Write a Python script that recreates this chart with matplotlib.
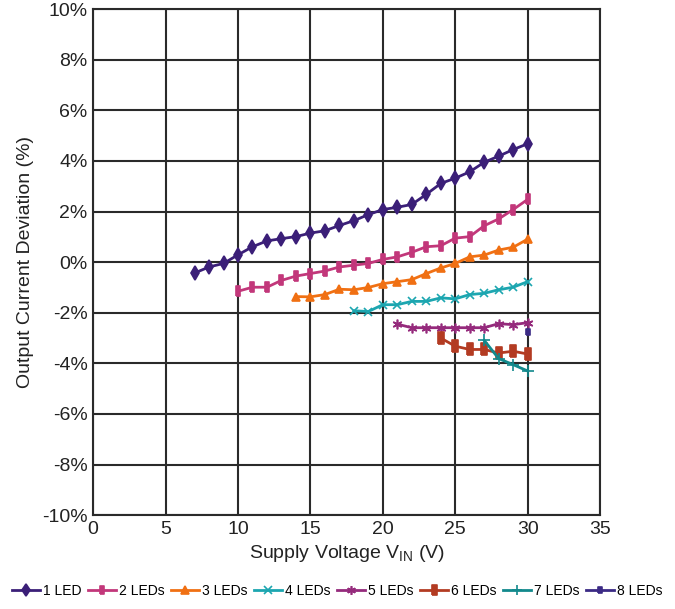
import matplotlib
matplotlib.use("Agg")
import matplotlib.pyplot as plt
from matplotlib.ticker import FuncFormatter

plt.rcParams['font.family'] = ['Liberation Sans Narrow', 'Liberation Sans', 'DejaVu Sans']

# data (supply voltage in V, deviation in %)
v_1led = list(range(7, 31))
d_1led = [-0.43, -0.19, -0.05, 0.29, 0.61, 0.84, 0.93, 1.01, 1.15, 1.24, 1.45, 1.64,
          1.88, 2.08, 2.17, 2.28, 2.68, 3.11, 3.32, 3.57, 3.95, 4.19, 4.45, 4.68]
v_2led = list(range(10, 31))
d_2led = [-1.15, -0.99, -0.99, -0.72, -0.55, -0.45, -0.35, -0.19, -0.12, -0.05, 0.11,
          0.21, 0.39, 0.61, 0.65, 0.95, 1.01, 1.44, 1.71, 2.08, 2.48]
v_3led = list(range(14, 31))
d_3led = [-1.36, -1.37, -1.28, -1.07, -1.09, -1.0, -0.85, -0.77, -0.69, -0.45, -0.23,
          -0.05, 0.21, 0.28, 0.48, 0.59, 0.91]
v_4led = list(range(18, 31))
d_4led = [-1.92, -1.95, -1.68, -1.68, -1.55, -1.55, -1.41, -1.45, -1.28, -1.23, -1.09,
          -0.99, -0.77]
v_5led = list(range(21, 31))
d_5led = [-2.45, -2.59, -2.59, -2.59, -2.59, -2.59, -2.59, -2.43, -2.47, -2.39]
v_6led = list(range(24, 31))
d_6led = [-3.0, -3.32, -3.45, -3.45, -3.59, -3.52, -3.63]
v_7led = [27, 28, 29, 30]
d_7led = [-3.09, -3.81, -4.05, -4.3]
v_8led = [30]
d_8led = [-2.75]

labels = ['1 LED', '2 LEDs', '3 LEDs', '4 LEDs', '5 LEDs', '6 LEDs', '7 LEDs', '8 LEDs']
colors = ['#3b1f78', '#c2377a', '#f07013', '#1ca6b0', '#952a7c', '#b33b22', '#12898c', '#3b2a85']

# narrow upright rectangle like the original's squashed squares
rect = [(-0.5, -1), (0.5, -1), (0.5, 1), (-0.5, 1), (-0.5, -1)]
markers = ['d', rect, '^', 'x', (6, 2, 0), rect, '+', rect]
msizes = [7, 7, 6, 6, 7, 8, 8, 5]

fig = plt.figure(figsize=(6.75, 6.09), dpi=100)
ax = fig.add_axes([0.138, 0.154, 0.751, 0.831])

series = [(v_1led, d_1led), (v_2led, d_2led), (v_3led, d_3led), (v_4led, d_4led),
          (v_5led, d_5led), (v_6led, d_6led), (v_7led, d_7led), (v_8led, d_8led)]
for (xs, ys), lab, c, m, ms in zip(series, labels, colors, markers, msizes):
    ax.plot(xs, ys, color=c, marker=m, markersize=ms, linewidth=2, label=lab,
            markeredgewidth=1.2)

ax.set_xlim(0, 35)
ax.set_ylim(-10, 10)
ax.set_xticks(range(0, 36, 5))
ax.set_yticks(range(-10, 11, 2))
ax.yaxis.set_major_formatter(FuncFormatter(lambda v, p: f"{int(v)}%"))
ax.grid(True, color='#2a2a2a', linewidth=1.5)
ax.set_axisbelow(True)
for s in ax.spines.values():
    s.set_color('#2a2a2a')
    s.set_linewidth(1.5)
ax.tick_params(length=0, labelsize=14, colors='#222222', pad=4)

ax.set_xlabel(r"Supply Voltage V$_{\mathregular{IN}}$ (V)", fontsize=14, color='#222222', labelpad=4)
ax.set_ylabel("Output Current Deviation (%)", fontsize=14, color='#222222', labelpad=6)

fig.legend(loc='lower center', bbox_to_anchor=(0.5, -0.002), ncol=8, frameon=False,
           fontsize=10, handlelength=2.0, handletextpad=0.25, columnspacing=0.45,
           markerscale=0.9)

fig.savefig("out.png", dpi=100)
